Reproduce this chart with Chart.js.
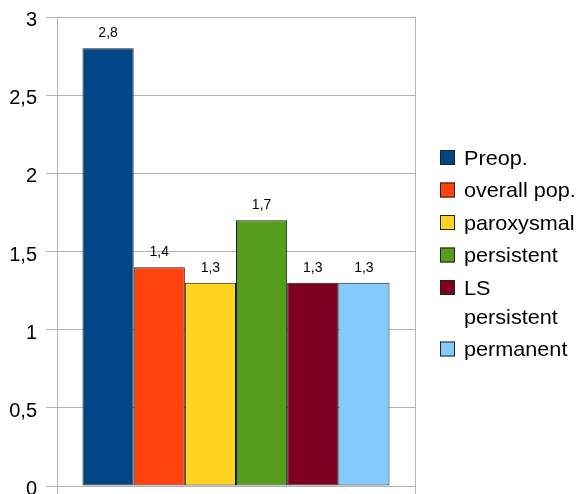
<!DOCTYPE html>
<html>
<head>
<meta charset="utf-8">
<style>
  html, body { margin: 0; padding: 0; background: #ffffff; }
  #wrap { width: 578px; height: 494px; position: relative; }
</style>
<script src="https://cdn.jsdelivr.net/npm/chart.js@4/dist/chart.umd.min.js"></script>
</head>
<body>
<div id="wrap"><canvas id="chart" width="578" height="494"></canvas></div>
<script>
// Single category, one bar per group
const categories = [''];
const seriesNames = ['Preop.', 'overall pop.', 'paroxysmal', 'persistent', 'LS persistent', 'permanent'];
const seriesValues = [2.8, 1.4, 1.3, 1.7, 1.3, 1.3];
const seriesColors = ['#004586', '#ff420e', '#ffd320', '#579d1c', '#7e0021', '#83caff'];
const yTicks = [0, 0.5, 1, 1.5, 2, 2.5, 3];

const FONT = '"Liberation Sans", Arial, sans-serif';
const LEGEND_WIDE = 1.03;   // slight horizontal stretch of legend text
const fmt = v => String(v).replace('.', ',');

// Draws axis numbers, value labels and the side legend
const decor = {
  id: 'decor',
  afterDatasetsDraw(chart) {
    const ctx = chart.ctx;
    ctx.save();
    ctx.fillStyle = '#000000';
    ctx.font = '14px ' + FONT;
    ctx.textAlign = 'center';
    ctx.textBaseline = 'alphabetic';
    chart.data.datasets.forEach((ds, i) => {
      const bar = chart.getDatasetMeta(i).data[0];
      ctx.fillText(fmt(ds.data[0]), bar.x, bar.y - 11);
    });
    ctx.restore();
  },
  afterDraw(chart) {
    const ctx = chart.ctx;
    const ys = chart.scales.y;
    ctx.save();
    ctx.fillStyle = '#000000';
    ctx.font = '20px ' + FONT;
    ctx.textBaseline = 'alphabetic';

    // y axis numbers
    ctx.textAlign = 'right';
    yTicks.forEach(v => {
      const y = ys.getPixelForValue(v);
      ctx.fillText(fmt(v), 37, y + 9);
    });

    // legend
    ctx.font = '21px ' + FONT;
    ctx.textAlign = 'left';
    const sqX = 440, sq = 15, txX = 464, maxW = 578 - txX;
    let cy = 157.5;
    chart.data.datasets.forEach((ds, i) => {
      ctx.fillStyle = ds.backgroundColor;
      ctx.fillRect(sqX, cy - sq / 2, sq, sq);
      ctx.strokeStyle = '#222222';
      ctx.lineWidth = 1;
      ctx.strokeRect(sqX + 0.5, cy - sq / 2 + 0.5, sq - 1, sq - 1);

      // wrap words that do not fit beside the swatch
      const words = ds.label.split(' ');
      const lines = [];
      let cur = '';
      words.forEach(w => {
        const test = cur ? cur + ' ' + w : w;
        if (cur && ctx.measureText(test).width * LEGEND_WIDE > maxW) { lines.push(cur); cur = w; }
        else cur = test;
      });
      lines.push(cur);

      ctx.fillStyle = '#000000';
      lines.forEach((ln, k) => {
        ctx.save();
        ctx.translate(txX, cy + 7 + k * 29);
        ctx.scale(LEGEND_WIDE, 1);
        ctx.fillText(ln, 0, 0);
        ctx.restore();
      });
      cy += 32.5 + (lines.length - 1) * 29;
    });
    ctx.restore();
  }
};

new Chart(document.getElementById('chart'), {
  type: 'bar',
  data: {
    labels: categories,
    datasets: seriesNames.map((name, i) => ({
      label: name,
      data: [seriesValues[i]],
      backgroundColor: seriesColors[i],
      borderColor: '#1a1a1a',
      borderWidth: 1,
      borderSkipped: false,
      barPercentage: 1,
      categoryPercentage: 0.8575
    }))
  },
  options: {
    responsive: false,
    animation: false,
    devicePixelRatio: 1,
    layout: { padding: { top: 17, right: 163, left: 0, bottom: 0 } },
    plugins: {
      legend: { display: false },
      tooltip: { enabled: false },
      title: { display: false }
    },
    scales: {
      x: {
        offset: true,
        grid: { color: '#b3b3b3', offset: true, tickLength: 8, drawTicks: true },
        border: { display: true, color: '#b3b3b3' },
        ticks: { display: false }
      },
      y: {
        min: 0,
        max: 3,
        afterBuildTicks: s => { s.ticks = yTicks.map(v => ({ value: v })); },
        afterFit: s => { s.width = 57; },
        grid: { color: '#b3b3b3', tickLength: 11, drawTicks: true },
        border: { display: true, color: '#b3b3b3' },
        ticks: { display: false }
      }
    }
  },
  plugins: [decor]
});
</script>
</body>
</html>
